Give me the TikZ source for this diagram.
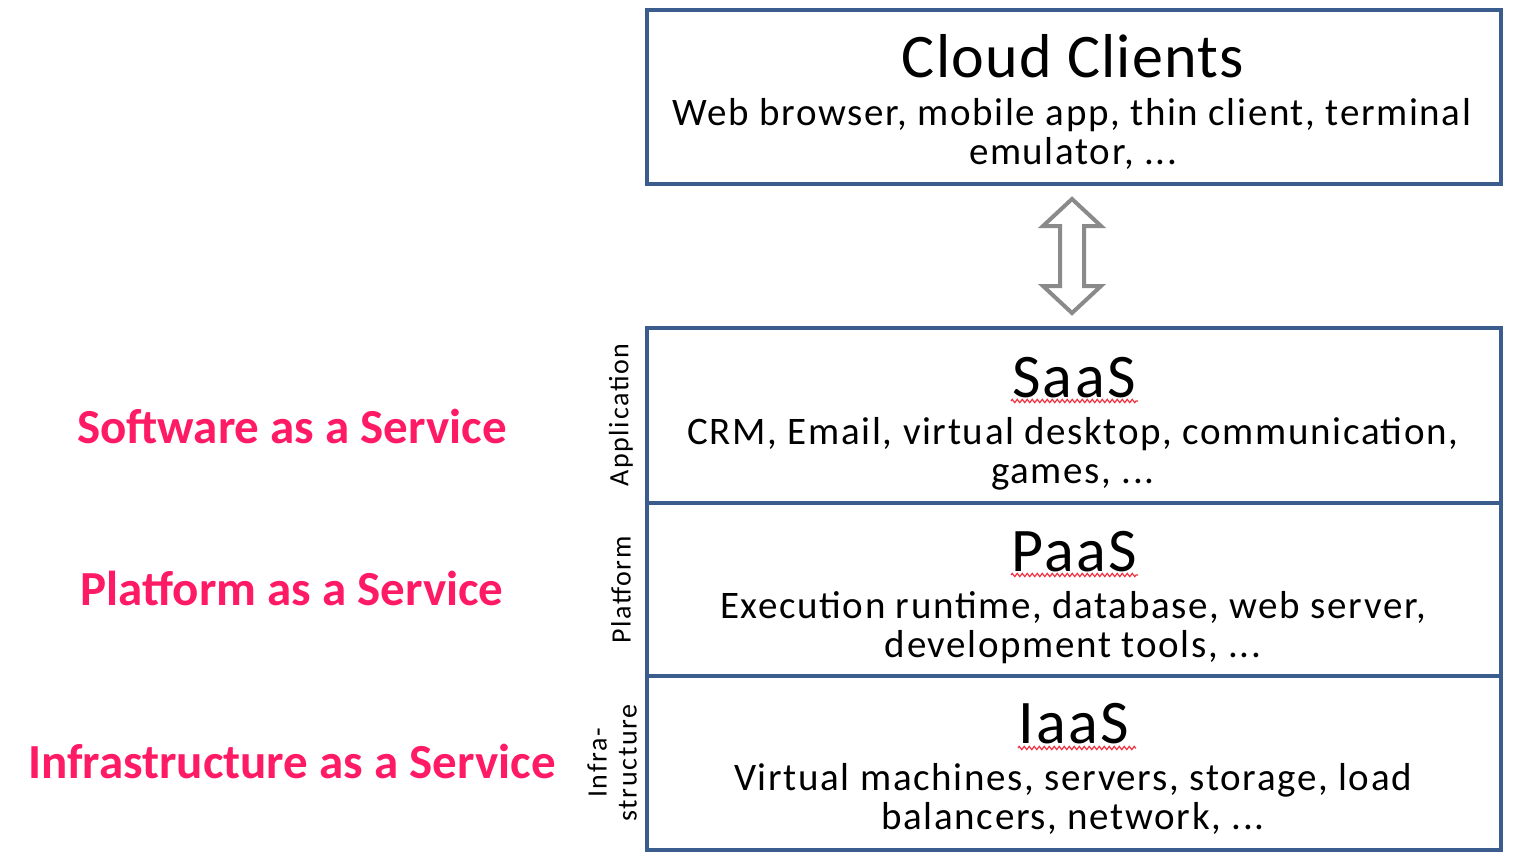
\documentclass[tikz,border=0pt]{standalone}
\usepackage{fontspec}
\setmainfont{Carlito}
\usetikzlibrary{decorations.pathmorphing}
\definecolor{boxblue}{HTML}{3A5D8E}
\definecolor{pinklab}{HTML}{FF1A66}
\definecolor{arrowgray}{HTML}{8A8A8A}
\definecolor{wavered}{HTML}{F03040}
\tikzset{
  layerbox/.style={draw=boxblue, line width=4pt, minimum width=854pt, inner sep=0pt},
  title/.style={anchor=base, inner sep=0pt, font=\fontsize{62}{62}\selectfont\addfontfeature{LetterSpace=2}},
  bodyline/.style={anchor=base, inner sep=0pt, font=\fontsize{39}{39}\selectfont\addfontfeature{LetterSpace=4.2}},
  servlabel/.style={anchor=base, inner sep=0pt, text=pinklab, font=\fontsize{49}{49}\selectfont\bfseries},
  sidelabel/.style={inner sep=0pt, rotate=90, align=center, font=\fontsize{28}{30}\selectfont\addfontfeature{LetterSpace=6}},
  wavy/.style={draw=wavered, line width=1.2pt, decorate, decoration={zigzag, amplitude=1.6pt, segment length=5pt}},
  dblarrow/.style={draw=arrowgray, line width=4pt, line join=miter, fill=white}
}
\begin{document}
\begin{tikzpicture}[x=1pt,y=-1pt]
\useasboundingbox (0,0) rectangle (1522,862);
% boxes
\node[layerbox, minimum height=174pt] (clients) at (1074,97) {};
\node[layerbox, minimum height=175pt] (saas) at (1074,415.5) {};
\node[layerbox, minimum height=173pt] (paas) at (1074,589.5) {};
\node[layerbox, minimum height=174pt] (iaas) at (1074,763) {};
% arrow
\draw[dblarrow] (1072,199) -- (1101,226) -- (1084,226) -- (1084,286) -- (1101,286) -- (1072,313)
  -- (1043,286) -- (1060,286) -- (1060,226) -- (1043,226) -- cycle;
% Cloud Clients
\node[title] (cctitle) at (1073,77) {Cloud Clients};
\node[bodyline] (cc1) at (1072,125) {Web browser, mobile app, thin client, terminal};
\node[bodyline] (cc2) at (1073,164) {emulator, ...};
% SaaS
\node[title, font=\fontsize{62}{62}\selectfont\addfontfeature{LetterSpace=4}] (saastitle) at (1074,397) {SaaS};
\draw[wavy] (1011,401) -- (1138,401);
\node[bodyline] (s1) at (1073,444) {CRM, Email, virtual desktop, communication,};
\node[bodyline] (s2) at (1073,483) {games, ...};
% PaaS
\node[title, font=\fontsize{62}{62}\selectfont\addfontfeature{LetterSpace=4}] (paastitle) at (1074,571) {PaaS};
\draw[wavy] (1011,575) -- (1138,575);
\node[bodyline] (p1) at (1073,618) {Execution runtime, database, web server,};
\node[bodyline] (p2) at (1073,657) {development tools, ...};
% IaaS
\node[title, font=\fontsize{62}{62}\selectfont\addfontfeature{LetterSpace=4}] (iaastitle) at (1074,743) {IaaS};
\draw[wavy] (1018,748) -- (1136,748);
\node[bodyline] (i1) at (1073,790) {Virtual machines, servers, storage, load};
\node[bodyline] (i2) at (1073,829) {balancers, network, ...};
% side labels
\node[sidelabel] (app) at (621,415) {Application};
\node[sidelabel] (plat) at (621,590) {Platform};
\node[sidelabel] (infra) at (612,763) {Infra-\\structure};
% service labels
\node[servlabel] (sw) at (292,443) {Software as a Service};
\node[servlabel] (pf) at (292,605) {Platform as a Service};
\node[servlabel] (inf) at (292,778) {Infrastructure as a Service};
\end{tikzpicture}
\end{document}
